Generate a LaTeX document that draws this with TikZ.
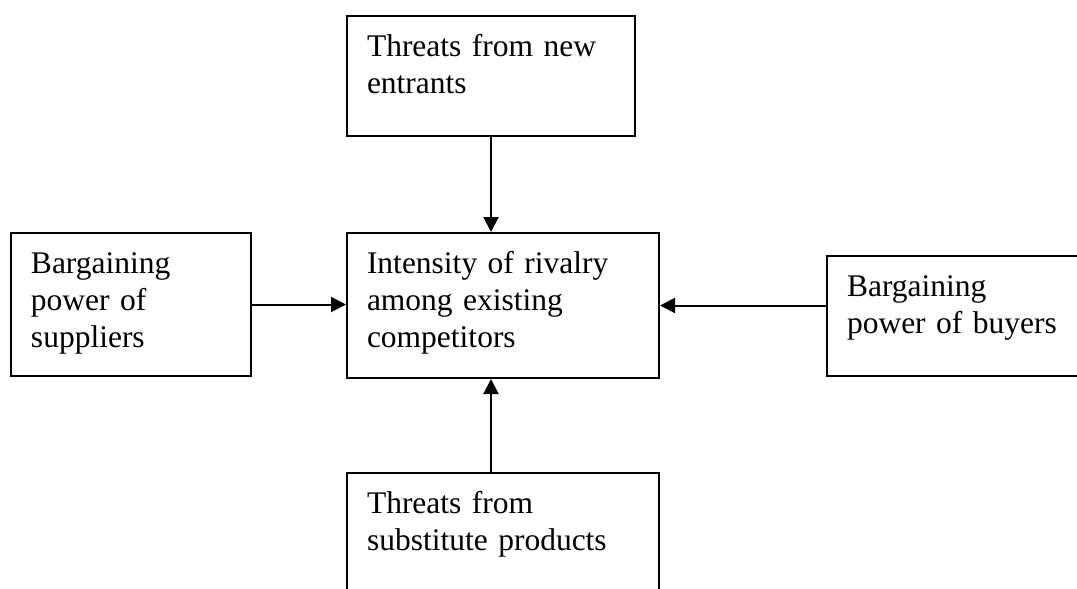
\documentclass[tikz,border=0pt]{standalone}
\usepackage{fontspec}
\setmainfont{Liberation Serif}
\usetikzlibrary{arrows.meta, positioning, calc}

\begin{document}
\begin{tikzpicture}[x=0.5pt, y=-0.5pt,
        force/.style={draw, line width=1pt, anchor=north west, align=left,
            inner xsep=10pt, inner ysep=0pt, text height=20pt,
            font=\fontsize{15.75}{18.5}\selectfont},
        push/.style={line width=1pt, -{Triangle[length=7.5pt, width=7.5pt]}}]
    \useasboundingbox (0,0) rectangle (1077,589);
    \clip (0,0) rectangle (1077,589);
    % the five forces
    \node[force, text width=124pt, text depth=40pt] (entrants) at (346,15)
        {Threats from new\\entrants};
    \node[force, text width=136pt, text depth=52.5pt] (rivalry) at (346,232)
        {Intensity of rivalry\\among existing\\competitors};
    \node[force, text width=100pt, text depth=51.5pt] (suppliers) at (10,232)
        {Bargaining\\power of\\suppliers};
    \node[force, text width=112pt, text depth=40pt] (buyers) at (826,255)
        {Bargaining\\power of buyers};
    \node[force, text width=136pt, text depth=60pt] (substitutes) at (346,472)
        {Threats from\\substitute products};
    % arrows into the rivalry box
    \draw[push] (entrants.south) -- (entrants.south |- rivalry.north);
    \draw[push] (suppliers.east) -- (suppliers.east -| rivalry.west);
    \draw[push] (rivalry.east -| buyers.west) -- (rivalry.east);
    \draw[push] (entrants.south |- substitutes.north) -- (entrants.south |- rivalry.south);
\end{tikzpicture}
\end{document}
